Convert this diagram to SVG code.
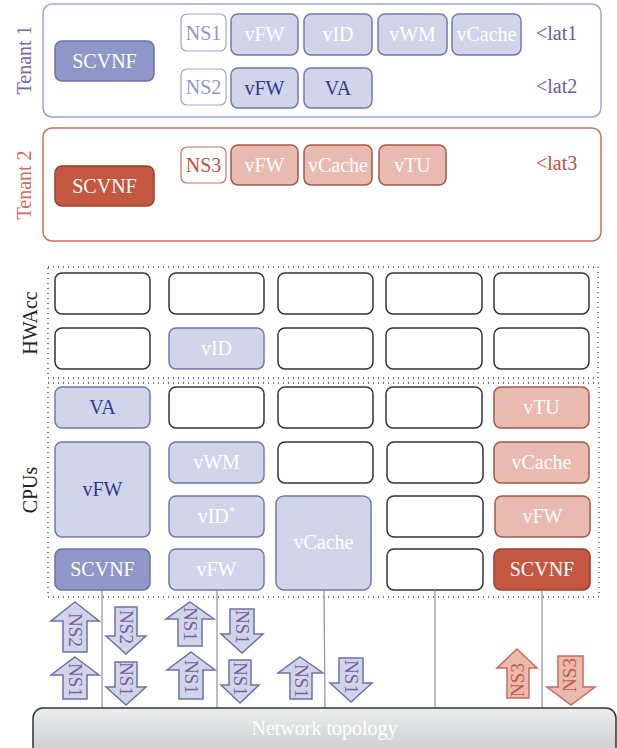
<svg xmlns="http://www.w3.org/2000/svg" width="617" height="748" viewBox="0 0 617 748">
<defs>
<linearGradient id="netg" x1="0" y1="0" x2="0" y2="1">
<stop offset="0" stop-color="#ecedee"/>
<stop offset="1" stop-color="#c2c3c5"/>
</linearGradient>
</defs>
<style>
text{font-family:"Liberation Serif","Times New Roman",serif;font-size:20px;text-anchor:middle}
.t1{fill:none;stroke:#9ea4d2;stroke-width:1.5}
.t2{fill:none;stroke:#cf6f5c;stroke-width:1.5}
.bd{fill:#8e97c8;stroke:#6b73a6;stroke-width:1.5}
.bl{fill:#d1d5ea;stroke:#7079ad;stroke-width:1.5}
.bns{fill:#fff;stroke:#9ea4d2;stroke-width:1.2}
.rd{fill:#c4573f;stroke:#9c3e2c;stroke-width:1.5}
.rl{fill:#e8bab0;stroke:#a4584a;stroke-width:1.5}
.rns{fill:#fff;stroke:#cf6f5c;stroke-width:1.2}
.e{fill:#fff;stroke:#333;stroke-width:1.5}
.dot{fill:none;stroke:#444;stroke-width:1.3;stroke-dasharray:1 4}
.w{fill:#fff}
.db{fill:#2e3b8c}
.nsb{fill:#8e97c8}
.nsr{fill:#c4503c}
.lat1{fill:#6e5a9c;text-anchor:start}
.lat3{fill:#b8503e;text-anchor:start}
.lab{fill:#222}
.vl{stroke:#999;stroke-width:1.3;fill:none}
.ab{fill:#d1d5ea;stroke:#6b73a6;stroke-width:1.5}
.ar{fill:#e8bab0;stroke:#d06a55;stroke-width:1.5}
.atb{fill:#7a5ea0;font-size:19px}
.atr{fill:#c45a45;font-size:19px}
</style>

<g id="tenant1">
<rect class="t1" x="43" y="4" width="558" height="113" rx="9"/>
<text transform="translate(31,60) rotate(-90)" fill="#7a66a3">Tenant 1</text>
</g>
<g id="t1-scvnf"><rect class="bd" x="55" y="41" width="99" height="40" rx="7"/><text class="w" x="104.5" y="68">SCVNF</text></g>
<g id="t1-ns1"><rect class="bns" x="181" y="14" width="45" height="37" rx="6"/><text class="nsb" x="203.5" y="40">NS1</text></g>
<g id="t1-vfw1"><rect class="bl" x="231" y="14" width="67" height="41" rx="7"/><text class="w" x="264.5" y="41">vFW</text></g>
<g id="t1-vid"><rect class="bl" x="304" y="14" width="68" height="41" rx="7"/><text class="w" x="338" y="41">vID</text></g>
<g id="t1-vwm"><rect class="bl" x="378" y="14" width="69" height="41" rx="7"/><text class="w" x="412.5" y="41">vWM</text></g>
<g id="t1-vcache"><rect class="bl" x="452" y="14" width="69" height="41" rx="7"/><text class="w" x="486.5" y="41">vCache</text></g>
<g id="t1-lat1"><text class="lat1" x="536" y="40">&lt;lat1</text></g>
<g id="t1-ns2"><rect class="bns" x="181" y="69" width="45" height="36" rx="6"/><text class="nsb" x="203.5" y="94">NS2</text></g>
<g id="t1-vfw2"><rect class="bl" x="231" y="68" width="67" height="40" rx="7"/><text class="db" x="264.5" y="95">vFW</text></g>
<g id="t1-va"><rect class="bl" x="304" y="68" width="68" height="40" rx="7"/><text class="db" x="338" y="95">VA</text></g>
<g id="t1-lat2"><text class="lat1" x="536" y="93">&lt;lat2</text></g>

<g id="tenant2">
<rect class="t2" x="43" y="128" width="558" height="113" rx="9"/>
<text transform="translate(31,185) rotate(-90)" fill="#d36b55">Tenant 2</text>
</g>
<g id="t2-scvnf"><rect class="rd" x="55" y="166" width="99" height="40" rx="7"/><text class="w" x="104.5" y="193">SCVNF</text></g>
<g id="t2-ns3"><rect class="rns" x="181" y="147" width="45" height="36" rx="6"/><text class="nsr" x="203.5" y="172">NS3</text></g>
<g id="t2-vfw"><rect class="rl" x="231" y="145" width="67" height="40" rx="7"/><text class="w" x="264.5" y="172">vFW</text></g>
<g id="t2-vcache"><rect class="rl" x="304" y="145" width="68" height="40" rx="7"/><text class="w" x="338" y="172">vCache</text></g>
<g id="t2-vtu"><rect class="rl" x="379" y="145" width="67" height="40" rx="7"/><text class="w" x="412.5" y="172">vTU</text></g>
<g id="t2-lat3"><text class="lat3" x="536" y="170">&lt;lat3</text></g>

<g id="hwacc">
<rect class="dot" x="48" y="267" width="550" height="111"/>
<text class="lab" transform="translate(37,323) rotate(-90)">HWAcc</text>
<rect class="e" x="55" y="273" width="95" height="41" rx="7"/>
<rect class="e" x="169" y="273" width="95" height="41" rx="7"/>
<rect class="e" x="278" y="273" width="95" height="41" rx="7"/>
<rect class="e" x="386" y="273" width="96" height="41" rx="7"/>
<rect class="e" x="494" y="273" width="95" height="41" rx="7"/>
<rect class="e" x="55" y="328" width="95" height="41" rx="7"/>
<rect class="e" x="278" y="328" width="95" height="41" rx="7"/>
<rect class="e" x="386" y="328" width="96" height="41" rx="7"/>
<rect class="e" x="494" y="328" width="95" height="41" rx="7"/>
</g>
<g id="hw-vid"><rect class="bl" x="169" y="328" width="95" height="41" rx="7"/><text class="w" x="216.5" y="355">vID</text></g>

<g id="cpus">
<rect class="dot" x="48" y="383" width="551" height="214"/>
<text class="lab" transform="translate(37,490) rotate(-90)">CPUs</text>
<rect class="e" x="169" y="387" width="95" height="41" rx="7"/>
<rect class="e" x="278" y="387" width="95" height="41" rx="7"/>
<rect class="e" x="386" y="387" width="96" height="41" rx="7"/>
<rect class="e" x="278" y="442" width="95" height="41" rx="7"/>
<rect class="e" x="387" y="442" width="96" height="41" rx="7"/>
<rect class="e" x="387" y="496" width="96" height="41" rx="7"/>
<rect class="e" x="387" y="549" width="96" height="41" rx="7"/>
</g>
<g id="cpu-va"><rect class="bl" x="55" y="387" width="95" height="41" rx="7"/><text class="db" x="102.5" y="414">VA</text></g>
<g id="cpu-vfw1"><rect class="bl" x="55" y="442" width="95" height="95" rx="7"/><text class="db" x="102.5" y="496">vFW</text></g>
<g id="cpu-scvnf1"><rect class="bd" x="55" y="549" width="95" height="41" rx="7"/><text class="w" x="102.5" y="576">SCVNF</text></g>
<g id="cpu-vwm"><rect class="bl" x="169" y="442" width="95" height="41" rx="7"/><text class="w" x="216.5" y="469">vWM</text></g>
<g id="cpu-vid"><rect class="bl" x="169" y="496" width="95" height="41" rx="7"/><text class="w" x="216.5" y="523">vID<tspan font-size="13" dy="-8">*</tspan></text></g>
<g id="cpu-vfw2"><rect class="bl" x="169" y="549" width="95" height="41" rx="7"/><text class="w" x="216.5" y="576">vFW</text></g>
<g id="cpu-vcache"><rect class="bl" x="276" y="496" width="95" height="94" rx="8"/><text class="w" x="323.5" y="549">vCache</text></g>
<g id="cpu-vtu"><rect class="rl" x="494" y="387" width="95" height="41" rx="7"/><text class="w" x="541.5" y="414">vTU</text></g>
<g id="cpu-vcache2"><rect class="rl" x="494" y="442" width="95" height="41" rx="7"/><text class="w" x="541.5" y="469">vCache</text></g>
<g id="cpu-vfw3"><rect class="rl" x="495" y="496" width="95" height="41" rx="7"/><text class="w" x="542.5" y="523">vFW</text></g>
<g id="cpu-scvnf2"><rect class="rd" x="494" y="549" width="96" height="41" rx="7"/><text class="w" x="542" y="576">SCVNF</text></g>

<g id="connectors">
<line class="vl" x1="102" y1="590" x2="102" y2="708"/>
<line class="vl" x1="217" y1="590" x2="217" y2="708"/>
<line class="vl" x1="324" y1="590" x2="325" y2="708"/>
<line class="vl" x1="435" y1="590" x2="435" y2="708"/>
<line class="vl" x1="542" y1="590" x2="542" y2="708"/>
</g>

<g id="arrows">
<path class="ab" d="M75,602 L99,621 L87,621 L87,652 L63,652 L63,621 L51,621 Z"/>
<text class="atb" transform="translate(75,630) rotate(90)" y="6">NS2</text>
<path class="ab" d="M75,657 L99,675 L87,675 L87,699 L63,699 L63,675 L51,675 Z"/>
<text class="atb" transform="translate(75,680) rotate(90)" y="6">NS1</text>
<path class="ab" d="M115,607 L137,607 L137,636 L146,636 L126,654 L106,636 L115,636 Z"/>
<text class="atb" transform="translate(126,627) rotate(90)" y="6">NS2</text>
<path class="ab" d="M115,662 L137,662 L137,687 L146,687 L126,705 L106,687 L115,687 Z"/>
<text class="atb" transform="translate(126,679) rotate(90)" y="6">NS1</text>

<path class="ab" d="M190,602 L214,619 L202,619 L202,646 L178,646 L178,619 L166,619 Z"/>
<text class="atb" transform="translate(190,624) rotate(90)" y="6">NS1</text>
<path class="ab" d="M191,652 L215,670 L203,670 L203,699 L179,699 L179,670 L167,670 Z"/>
<text class="atb" transform="translate(191,677) rotate(90)" y="6">NS1</text>
<path class="ab" d="M230,609 L254,609 L254,634 L263,634 L242,653 L221,634 L230,634 Z"/>
<text class="atb" transform="translate(242,627) rotate(90)" y="6">NS1</text>
<path class="ab" d="M229,660 L251,660 L251,685 L259,685 L240,703 L221,685 L229,685 Z"/>
<text class="atb" transform="translate(240,679) rotate(90)" y="6">NS1</text>

<path class="ab" d="M300,657 L323,673 L312,673 L312,699 L290,699 L290,673 L278,673 Z"/>
<text class="atb" transform="translate(301,681) rotate(90)" y="6">NS1</text>
<path class="ab" d="M339,658 L363,658 L363,683 L372,683 L351,702 L330,683 L339,683 Z"/>
<text class="atb" transform="translate(351,677) rotate(90)" y="6">NS1</text>

<path class="ar" d="M517,649 L537,668 L529,668 L529,698 L507,698 L507,668 L497,668 Z"/>
<text class="atr" transform="translate(518,680) rotate(-90)" y="6">NS3</text>
<path class="ar" d="M558,656 L583,656 L583,687 L595,687 L571,705 L547,687 L558,687 Z"/>
<text class="atr" transform="translate(570,675) rotate(-90)" y="6">NS3</text>
</g>

<g id="network">
<rect x="33" y="708" width="583" height="60" rx="10" fill="url(#netg)" stroke="#333" stroke-width="1.5"/>
<text class="w" x="324.5" y="735">Network topology</text>
</g>
</svg>
